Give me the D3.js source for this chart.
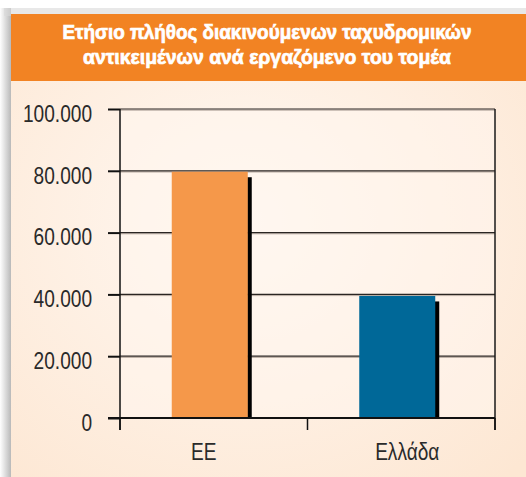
<!DOCTYPE html>
<html>
<head>
<meta charset="utf-8">
<script src="https://cdn.jsdelivr.net/npm/d3@7/dist/d3.min.js"></script>
<style>
  body { margin: 0; background: #fff; }
  svg { display: block; }
</style>
</head>
<body>
<div id="chart"></div>
<script>
// chart values
const categories = ["ΕΕ", "Ελλάδα"]
const values = [79700, 39500]
const barColors = ["#F5984A", "#006898"]
const yTicks = [0, 20000, 40000, 60000, 80000, 100000]
const titleLines = ["Ετήσιο πλήθος διακινούμενων ταχυδρομικών", "αντικειμένων ανά εργαζόμενο του τομέα"]

const w = 526, h = 477
const fontStack = '"Liberation Sans", Arial, sans-serif'
const squeeze = 0.83 //condensed look

let svg = d3.select('#chart').append('svg').attr('width', w).attr('height', h)
let defs = svg.append('defs')

// left shadow of the panel
let shadowGrad = defs.append('linearGradient').attr('id', 'shadow')
shadowGrad.append('stop').attr('offset', '0%').attr('stop-color', '#ffffff')
shadowGrad.append('stop').attr('offset', '100%').attr('stop-color', '#b9b9b9')

// peach background, lighter towards the middle
let bgGrad = defs.append('radialGradient').attr('id', 'bg')
	.attr('cx', '0.45').attr('cy', '0.45').attr('r', '0.75')
bgGrad.append('stop').attr('offset', '0%').attr('stop-color', '#FFF8F2')
bgGrad.append('stop').attr('offset', '100%').attr('stop-color', '#FDE7D3')

svg.append('rect').attr('x', 0).attr('y', 8).attr('width', 11).attr('height', h - 8).attr('fill', 'url(#shadow)')
svg.append('rect').attr('x', 4).attr('y', 8).attr('width', w).attr('height', 8).attr('fill', '#d8d8d8').attr('opacity', 0.6)

svg.append('rect').attr('x', 11).attr('y', 14).attr('width', w - 11).attr('height', h - 14).attr('fill', 'url(#bg)')

//header
svg.append('rect').attr('x', 11).attr('y', 14).attr('width', w - 11).attr('height', 67).attr('fill', '#F28323')
let titleWidths = [409, 368]
svg.append('g').selectAll('text')
	.data(titleLines)
	.join('text')
	.attr('x', 267)
	.attr('y', (d, i) => 39 + i * 24.5)
	.attr('text-anchor', 'middle')
	.attr('fill', '#fff')
	.attr('stroke', '#fff')
	.attr('stroke-width', 0.7)
	.attr('font-family', fontStack)
	.attr('font-weight', 'bold')
	.attr('font-size', 19.5)
	.attr('textLength', (d, i) => titleWidths[i])
	.attr('lengthAdjust', 'spacingAndGlyphs')
	.text(d => d)

/*
	scales
*/
let margin = {left: 120, right: 31, top: 109, bottom: 59}
let x = d3.scaleBand()
	.domain(categories)
	.range([margin.left, w - margin.right])
	.paddingInner(0)
	.paddingOuter(0)

let y = d3.scaleLinear()
	.domain([0, 100000])
	.range([h - margin.bottom, margin.top])

// plot area, a bit lighter than the panel
svg.append('rect')
	.attr('x', x.range()[0]).attr('y', y(100000))
	.attr('width', x.range()[1] - x.range()[0]).attr('height', y(0) - y(100000))
	.attr('fill', '#FFF6EE').attr('opacity', 0.55)

// gridlines
let grid = svg.append('g')
grid.selectAll('line.light')
	.data(yTicks.slice(1))
	.join('line')
	.attr('class', 'light')
	.attr('x1', x.range()[0]).attr('x2', x.range()[1])
	.attr('y1', d => y(d) + 1.2).attr('y2', d => y(d) + 1.2)
	.attr('stroke', '#b9aca2').attr('stroke-width', 1)
grid.selectAll('line.dark')
	.data(yTicks.slice(1))
	.join('line')
	.attr('class', 'dark')
	.attr('x1', x.range()[0]).attr('x2', x.range()[1])
	.attr('y1', d => y(d)).attr('y2', d => y(d))
	.attr('stroke', '#2a2522').attr('stroke-width', 1.2)

// right border of plot
svg.append('line')
	.attr('x1', x.range()[1]).attr('x2', x.range()[1])
	.attr('y1', y(100000)).attr('y2', y(0) + 12)
	.attr('stroke', '#1a1a1a').attr('stroke-width', 1.5)

// bars with black shadow
let barW = 76
let barG = svg.append('g')
barG.selectAll('.barShadow')
	.data(categories)
	.join('rect')
	.attr('class', 'barShadow')
	.attr('x', (d, i) => x(d) + x.bandwidth() / 2 - barW / 2 - 4 + barW - 0.5)
	.attr('y', (d, i) => y(values[i]) + 5.5)
	.attr('width', 4.5)
	.attr('height', (d, i) => y(0) - y(values[i]) - 5.5)
	.attr('fill', '#000')
barG.selectAll('.bar')
	.data(categories)
	.join('rect')
	.attr('class', 'bar')
	.attr('x', d => x(d) + x.bandwidth() / 2 - barW / 2 - 4)
	.attr('y', (d, i) => y(values[i]))
	.attr('width', barW)
	.attr('height', (d, i) => y(0) - y(values[i]))
	.attr('fill', (d, i) => barColors[i])

//squeeze a text element horizontally
function condense(sel){
	sel.each(function(){
		let len = this.getComputedTextLength()
		d3.select(this).attr('textLength', len * squeeze).attr('lengthAdjust', 'spacingAndGlyphs')
	})
}

// y axis
let yAxis = svg.append('g')
	.attr('transform', `translate(${margin.left},0)`)
	.call(d3.axisLeft(y).tickValues(yTicks).tickSize(12).tickPadding(16)
		.tickFormat(d => d3.format(',')(d).replace(/,/g, '.')))
yAxis.select('.domain').remove()
yAxis.selectAll('line').attr('stroke', '#111').attr('stroke-width', 2)
yAxis.selectAll('text')
	.attr('font-family', fontStack)
	.attr('font-size', 23)
	.attr('fill', '#2a2a2a')
	.attr('dy', '12.3px')
	.call(condense)
svg.append('line')
	.attr('x1', margin.left).attr('x2', margin.left)
	.attr('y1', y(100000)).attr('y2', y(0) + 12)
	.attr('stroke', '#111').attr('stroke-width', 1.5)

// x axis line and ticks on band edges
svg.append('line')
	.attr('x1', margin.left - 12).attr('x2', x.range()[1])
	.attr('y1', y(0)).attr('y2', y(0))
	.attr('stroke', '#111').attr('stroke-width', 2)
let edges = categories.map(d => x(d)).concat([x.range()[1]])
svg.append('g').selectAll('line')
	.data(edges)
	.join('line')
	.attr('x1', d => d).attr('x2', d => d)
	.attr('y1', y(0)).attr('y2', y(0) + 12)
	.attr('stroke', '#111').attr('stroke-width', 1.5)

svg.append('g').selectAll('text')
	.data(categories)
	.join('text')
	.attr('x', (d, i) => x(d) + x.bandwidth() / 2 + (i == 0 ? -10 : 6))
	.attr('y', y(0) + 42)
	.attr('text-anchor', 'middle')
	.attr('font-family', fontStack)
	.attr('font-size', 23)
	.attr('fill', '#2a2a2a')
	.text(d => d)
	.call(condense)
</script>
</body>
</html>
